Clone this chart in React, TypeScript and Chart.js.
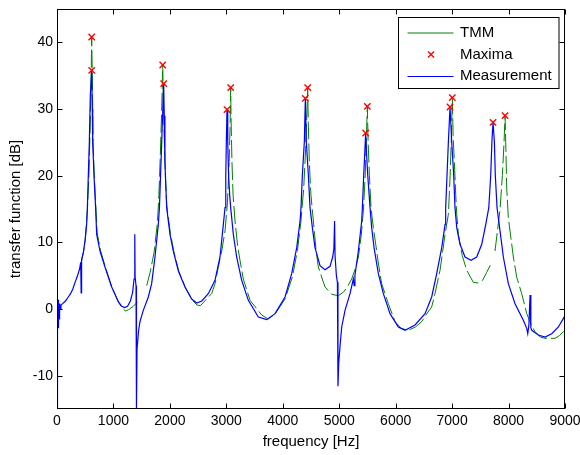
import React, { useEffect, useRef } from "react";
import { Chart, registerables } from "chart.js";

Chart.register(...registerables);

// Measurement (blue)
const measFreq = [
  0, 5, 12, 18, 24, 30, 38, 46, 55, 70, 100, 150, 200, 240, 280, 320, 360, 400, 420, 428, 436, 470, 500, 525,
  538, 555, 573, 590, 615, 625, 632, 655, 684, 703, 762, 850, 969, 1087, 1146, 1200, 1250, 1300, 1340, 1365,
  1376, 1380, 1384, 1400, 1408, 1418, 1445, 1470, 1529, 1618, 1677, 1736, 1795, 1815, 1835, 1855, 1875, 1890,
  1900, 1912, 1930, 1943, 2002, 2061, 2150, 2268, 2386, 2475, 2564, 2681, 2799, 2888, 2947, 2977, 2990, 3000,
  3012, 3025, 3040, 3060, 3077, 3124, 3183, 3272, 3390, 3567, 3715, 3863, 4040, 4158, 4247, 4306, 4323, 4347,
  4382, 4400, 4417, 4453, 4483, 4524, 4571, 4660, 4748, 4837, 4884, 4905, 4918, 4926, 4950, 4968, 4978, 4992,
  5014, 5044, 5103, 5191, 5250, 5265, 5278, 5339, 5398, 5410, 5434, 5469, 5480, 5505, 5546, 5575, 5617, 5693,
  5782, 5900, 6047, 6166, 6343, 6520, 6638, 6727, 6816, 6875, 6886, 6910, 6934, 6963, 6993, 7028, 7051, 7082,
  7140, 7229, 7335, 7436, 7525, 7596, 7650, 7684, 7705, 7725, 7749, 7765, 7796, 7849, 7908, 7996, 8115, 8262,
  8322, 8340, 8360, 8381, 8395, 8411, 8528, 8646, 8765, 8883, 8972, 9000,
];
const measDb = [
  -15, 1.6, -0.5, 1.4, -2.9, 1.0, -1.5, 0.8, 0.0, 0.6, 0.8, 1.2, 1.8, 2.3, 3.0, 4.0, 4.9, 6.0, 7.0, 2.4, 7.4, 8.6, 10.5, 12.7,
  15.2, 20.1, 25.1, 32.0, 35.8, 30.0, 25.1, 20.1, 15.2, 11.2, 8.7, 6.3, 3.3, 1.1, 0.4, 0.2, 0.4, 1.2, 2.5, 4.5,
  5.5, 11.2, 4.8, 3.5, -15, -6.0, -3.3, -1.9, -0.2, 1.8, 3.8, 7.8, 12.7, 15.2, 20.1, 25.0, 30.0, 33.8,
  29.0, 22.0, 18.0, 15.2, 11.2, 8.7, 5.7, 3.3, 1.5, 0.9, 1.2, 2.3, 4.3, 7.8, 12.7, 15.2, 20.0, 25.0,
  29.9, 25.0, 20.1, 17.0, 15.2, 11.2, 7.8, 4.3, 1.3, -1.2, -1.6, -0.7, 1.8, 5.3, 9.2, 13.2, 15.2, 20.1,
  25.1, 31.6, 25.1, 20.1, 15.2, 12.2, 9.2, 6.5, 5.9, 6.4, 7.8, 9.0, 13.2, 8.0, 5.0, 4.0, -11.6, -8.0,
  -5.6, -2.7, -0.2, 2.3, 4.5, 3.5, 5.0, 8.7, 13.2, 15.2, 20.1, 26.4, 24.0, 20.1, 15.2, 12.2, 9.2, 5.3,
  2.3, -0.7, -2.7, -3.2, -2.4, -0.7, 1.8, 5.3, 9.2, 12.7, 15.2, 20.1, 25.1, 30.3, 25.1, 20.1, 15.2, 12.2,
  9.7, 7.8, 7.3, 7.8, 9.7, 12.7, 15.2, 20.1, 25.1, 28.0, 25.1, 20.1, 15.2, 11.7, 7.8, 3.8, 0.8, -1.7,
  -2.9, -3.7, -2.5, 2.1, -2.8, -3.2, -3.9, -4.2, -3.7, -2.7, -1.4, -1.0,
];

// TMM (green); null = gap
const tmmFreq = [
  420, 470, 500, 540, 565, 590, 605, 615, 625, 640, 660, 690, 710, 770, 860, 970, 1090, 1150, 1210, 1270, 1350,
  1420, 1470, 1530, 1589, 1650, 1720, 1780, 1805, 1830, 1855, 1873, 1885, 1900, 1920, 1945, 2010, 2070, 2160,
  2280, 2400, 2480, 2540, 2650, 2740, 2800, 2858, 2918, 2977, 3020, 3050, 3068, 3077, 3085, 3100, 3120, 3154,
  3200, 3242, 3301, 3420, 3626, 3740, 3860, 4040, 4170, 4260, 4320, 4370, 4405, 4430, 4441, 4452, 4470, 4500,
  4542, 4590, 4630, 4748, 4866, 4984, 5073, 5150, 5221, 5290, 5340, 5390, 5430, 5460, 5482, 5498, 5512, 5535,
  5565, 5605, 5650, 5700, 5752, 5870, 5989, 6100, 6225, 6350, 6461, 6560, 6638, 6697, 6786, 6875, 6934, 6965,
  6988, 7004, 7018, 7040, 7065, 7082, 7111, 7180, 7259, 7376, 7465, 7540, 7613, 7702, 7730, 7760, 7849, 7890,
  7920, 7938, 7950, 7968, 7996, 8085, 8144, 8233, 8322, 8400, 8469, 8560, 8646, 8823, 8900, 8972, 9000,
];
const tmmDb = [
  6.6, 8.6, 10.3, 15.0, 20.0, 28.0, 35.0, 40.8, 35.0, 25.0, 20.0, 15.0, 11.5, 8.8, 6.2, 3.3, 1.0, 0.2, -0.3, -0.1, 0.4,
  1.0, 1.5, null, 3.5, 5.5, 8.5, 13.0, 17.0, 23.0, 30.0, 36.6, 31.0, 26.0, 20.0, 15.5, 11.3, 8.6, 5.6,
  3.1, 1.3, 0.6, 0.5, 1.5, 2.3, 3.8, 6.3, 8.7, 11.7, 16.0, 22.0, 28.0, 33.2, 28.0, 22.0, 17.0, 13.2,
  9.5, 7.3, 4.5, 1.3, -0.9, -1.5, -0.8, 1.5, 4.8, 8.8, 13.0, 18.0, 24.0, 30.0, 33.2, 28.0, 22.0, 17.0,
  13.2, 8.8, 6.3, 3.3, 2.2, 2.0, 2.5, 3.4, 4.5, 6.2, 7.8, 11.0, 15.0, 20.0, 26.0, 30.4, 25.0, 20.0,
  15.0, 12.2, 9.5, 6.5, 3.8, 0.8, -1.9, -2.9, -3.2, -2.7, -1.9, -0.6, 0.3, 2.3, 5.8, 11.2, 14.2, 20.0,
  26.0, 31.7, 26.0, 22.0, 17.0, 14.2, 11.2, 8.0, 5.8, 4.0, 3.9, 4.3, 5.5, 7.0, null, 8.7, 14.9, 20.0,
  25.0, 29.0, 25.0, 18.0, 13.7, 7.8, 4.8, 2.3, -0.7, -2.3, -3.4, -4.2, -4.4, -4.4, -4.0, -3.4, -3.2,
];

// Maxima (red crosses)
const maxFreq = [615, 615, 1873, 1890, 3012, 3077, 4400, 4441, 5469, 5498, 6963, 7004, 7725, 7938];
const maxDb = [40.8, 35.8, 36.6, 33.8, 29.9, 33.2, 31.6, 33.2, 26.4, 30.4, 30.3, 31.7, 28.0, 29.0];

const xTicks = [0, 1000, 2000, 3000, 4000, 5000, 6000, 7000, 8000, 9000];
const yTicks = [-10, 0, 10, 20, 30, 40];
const legendLabels = ["TMM", "Maxima", "Measurement"];

const FONT = "'Liberation Sans', Arial, Helvetica, sans-serif";
const GREEN = "rgb(0,128,0)";
const BLUE = "rgb(0,0,255)";
const RED = "rgb(255,0,0)";

const framePlugin = {
  id: "matlabFrame",
  afterDraw(chart: any) {
    const { ctx, chartArea: a, scales } = chart;
    const xs = scales.x;
    const ys = scales.y;
    ctx.save();
    ctx.setLineDash([]);
    ctx.strokeStyle = "#000";
    ctx.lineWidth = 1;
    const L = Math.round(a.left) + 0.5;
    const R = Math.round(a.right) - 0.5;
    const T = Math.round(a.top) + 0.5;
    const B = Math.round(a.bottom) - 0.5;
    ctx.strokeRect(L, T, R - L, B - T);
    const tl = 5;
    ctx.beginPath();
    xTicks.forEach((v) => {
      const p = Math.round(xs.getPixelForValue(v)) + 0.5;
      ctx.moveTo(p, B);
      ctx.lineTo(p, B - tl);
      ctx.moveTo(p, T);
      ctx.lineTo(p, T + tl);
    });
    yTicks.forEach((v) => {
      const p = Math.round(ys.getPixelForValue(v)) + 0.5;
      ctx.moveTo(L, p);
      ctx.lineTo(L + tl, p);
      ctx.moveTo(R, p);
      ctx.lineTo(R - tl, p);
    });
    ctx.stroke();

    // legend
    const bw = 160.5;
    const bh = 71;
    const bx = Math.round(a.right - 167.5) + 0.5;
    const by = Math.round(a.top + 7.5) + 0.5;
    ctx.fillStyle = "#fff";
    ctx.fillRect(bx, by, bw, bh);
    ctx.strokeStyle = "#000";
    ctx.strokeRect(bx, by, bw, bh);
    const rows = [by + 15, by + 36.7, by + 58.3];
    const colors = [GREEN, RED, BLUE];
    ctx.font = `15px ${FONT}`;
    ctx.textBaseline = "middle";
    ctx.textAlign = "left";
    rows.forEach((ry, i) => {
      ctx.strokeStyle = colors[i];
      ctx.beginPath();
      if (i === 1) {
        const yy = Math.round(ry) + 0.5;
        const cx = bx + 32.5;
        ctx.lineWidth = 1.4;
        ctx.moveTo(cx - 3, yy - 3);
        ctx.lineTo(cx + 3, yy + 3);
        ctx.moveTo(cx + 3, yy - 3);
        ctx.lineTo(cx - 3, yy + 3);
      } else {
        const yy = i === 0 ? Math.round(ry) : Math.round(ry) + 0.5;
        ctx.lineWidth = i === 0 ? 1.2 : 1;
        ctx.moveTo(bx + 9, yy);
        ctx.lineTo(bx + 55, yy);
      }
      ctx.stroke();
      ctx.fillStyle = "#000";
      ctx.fillText(legendLabels[i], bx + 61.5, ry + 0.5);
    });
    ctx.restore();
  },
};

export default function App() {
  const ref = useRef<HTMLCanvasElement>(null);
  useEffect(() => {
    document.body.style.margin = "0";
    const measData = measFreq.map((f, i) => ({ x: f, y: measDb[i] }));
    const tmmData = tmmFreq.map((f, i) => ({ x: f, y: tmmDb[i] }));
    const maxData = maxFreq.map((f, i) => ({ x: f, y: maxDb[i] }));
    const chart = new Chart(ref.current as HTMLCanvasElement, {
      type: "line",
      data: {
        datasets: [
          {
            label: "Maxima",
            data: maxData,
            showLine: false,
            pointStyle: "crossRot",
            pointRadius: 4.5,
            pointBorderColor: RED,
            pointBackgroundColor: RED,
            pointBorderWidth: 1.4,
            borderColor: RED,
          },
          {
            label: "Measurement",
            data: measData,
            borderColor: BLUE,
            borderWidth: 1.2,
            pointRadius: 0,
            tension: 0,
            spanGaps: false,
          },
          {
            label: "TMM",
            data: tmmData,
            borderColor: GREEN,
            borderWidth: 1,
            borderDash: [18, 4],
            pointRadius: 0,
            tension: 0,
            spanGaps: false,
          },
        ],
      } as any,
      options: {
        animation: false,
        responsive: false,
        events: [],
        layout: { padding: 0 },
        plugins: { legend: { display: false }, tooltip: { enabled: false } },
        scales: {
          x: {
            type: "linear",
            min: 0,
            max: 9000,
            grid: { display: false, drawTicks: false },
            border: { display: false },
            ticks: {
              padding: 4,
              color: "#000",
              font: { family: FONT, size: 14 },
              maxRotation: 0,
              autoSkip: false,
              callback: (v: any) => String(v),
            },
            afterBuildTicks: (s: any) => {
              s.ticks = xTicks.map((v) => ({ value: v }));
            },
            afterFit: (s: any) => {
              s.height = 46;
              s.paddingLeft = 0;
              s.paddingRight = 15;
            },
            title: {
              display: true,
              text: "frequency [Hz]",
              color: "#000",
              font: { family: FONT, size: 15 },
              padding: { top: 0, bottom: 4 },
            },
          },
          y: {
            type: "linear",
            min: -15,
            max: 45,
            grid: { display: false, drawTicks: false },
            border: { display: false },
            ticks: {
              padding: 4,
              color: "#000",
              font: { family: FONT, size: 14 },
              autoSkip: false,
              callback: (v: any) => String(v),
            },
            afterBuildTicks: (s: any) => {
              s.ticks = yTicks.map((v) => ({ value: v }));
            },
            afterFit: (s: any) => {
              s.width = 57;
              s.paddingTop = 9;
              s.paddingBottom = 0;
            },
            title: {
              display: true,
              text: "transfer function [dB]",
              color: "#000",
              font: { family: FONT, size: 15 },
              padding: { top: 7, bottom: 0 },
            },
          },
        },
      } as any,
      plugins: [framePlugin],
    });
    return () => chart.destroy();
  }, []);
  return (
    <canvas
      ref={ref}
      width={580}
      height={455}
      style={{ display: "block", width: 580, height: 455 }}
    />
  );
}
